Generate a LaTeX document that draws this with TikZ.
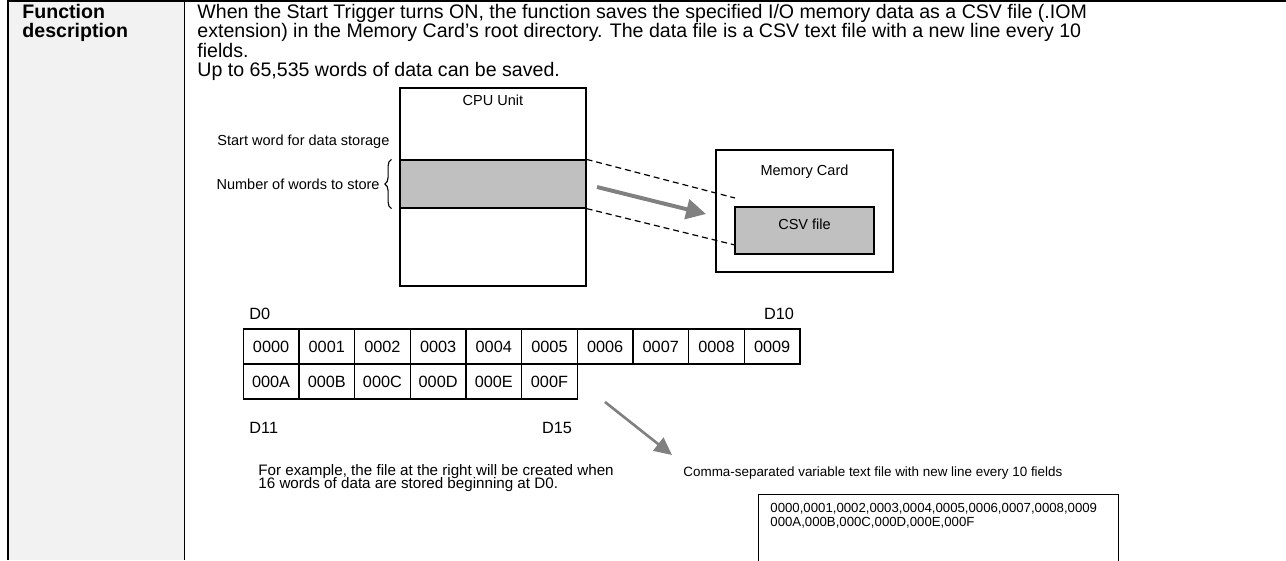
\documentclass[tikz,border=0pt]{standalone}
\usepackage{fontspec}
\setmainfont{Liberation Sans}
\usetikzlibrary{arrows.meta,decorations.pathreplacing,calc}
\newcommand{\pu}{0.4545pt}
\definecolor{cardgray}{HTML}{C0C0C0}
\definecolor{headgray}{HTML}{F2F2F2}
\definecolor{arrowgray}{HTML}{808080}

\begin{document}
\begin{tikzpicture}[x=\pu, y=-\pu,
		body/.style={anchor=base west, inner sep=0, font=\fontsize{8.9}{10.5}\selectfont},
		head/.style={anchor=base west, inner sep=0, font=\fontsize{8.9}{10.5}\selectfont\bfseries},
		lbl/.style={inner sep=0, font=\fontsize{6.6}{8}\selectfont},
		small/.style={inner sep=0, font=\fontsize{6.0}{7}\selectfont},
		val/.style={inner sep=0, font=\fontsize{7.4}{9}\selectfont},
		unit/.style={draw, line width=0.55pt, inner sep=0},
		filled/.style={unit, fill=cardgray},
		cell/.style={val, draw, line width=0.55pt, minimum width=55.67*\pu, minimum height=35*\pu},
		flow/.style={draw=arrowgray, line width=1.8pt, -{Triangle[length=9pt,width=9pt]}}
	]
	\useasboundingbox (0,0) rectangle (1286,560);
	\clip (0,0) rectangle (1286,560);

	% Table row frame
	\fill[headgray] (8,2) rectangle (184.5,560);
	\draw[line width=1.1pt] (7,1.2) -- (1286,1.2);
	\draw[line width=0.9pt] (8,0) -- (8,560);
	\draw[line width=0.9pt] (184.5,0) -- (184.5,560);

	\node[head] (fn) at (22,18) {Function};
	\node[head] (fd) at (22,37.5) {description};

	% Description text
	\node[body] (t1) at (197,18) {When the Start Trigger turns ON, the function saves the specified I/O memory data as a CSV file (.IOM};
	\node[body] (t2) at (197,37.5) {extension) in the Memory Card's root directory. The data file is a CSV text file with a new line every 10};
	\node[body] (t3) at (197,57) {fields.};
	\node[body] (t4) at (197,76.5) {Up to 65,535 words of data can be saved.};

	% CPU Unit
	\node[unit, minimum width=186*\pu, minimum height=198*\pu] (cpu) at (493,187) {};
	\node[filled, minimum width=186*\pu, minimum height=48*\pu] (area) at (493,184) {};
	\node[lbl, anchor=base] (cpulbl) at (493,105) {CPU Unit};
	\node[lbl, anchor=base west] (start) at (217,145) {Start word for data storage};
	\node[lbl, anchor=base east] (count) at (380,189) {Number of words to store};
	\draw[line width=0.5pt, decorate, decoration={brace, amplitude=3pt}]
		($(area.south west)+(-8,0)$) -- ($(area.north west)+(-8,0)$);

	% Memory Card
	\node[unit, minimum width=177*\pu, minimum height=122*\pu] (card) at (804.5,211) {};
	\node[lbl, anchor=base] (cardlbl) at (804.5,175) {Memory Card};
	\node[filled, minimum width=139*\pu, minimum height=47*\pu] (csv) at (804.5,230.5) {};
	\node[lbl, anchor=base] (csvlbl) at (804.5,229) {CSV file};

	\coordinate (hi) at (735,198);
	\coordinate (lo) at (735,245);
	\draw[line width=0.55pt, dash pattern=on 2.7pt off 1.8pt] (area.north east) -- (hi);
	\draw[line width=0.55pt, dash pattern=on 2.7pt off 1.8pt] (area.south east) -- (lo);

	\coordinate (mv0) at (597,187);
	\coordinate (mv1) at (706,214);
	\draw[flow] (mv0) -- (mv1);

	% Words D0 to D15
	\foreach \v [count=\i from 0] in {0000,0001,0002,0003,0004,0005,0006,0007,0008,0009}
		\node[cell] (w\i) at ({271.1+55.67*\i},346.5) {\v};
	\foreach \v [count=\i from 0] in {000A,000B,000C,000D,000E,000F}
		\node[cell] (x\i) at ({271.1+55.67*\i},381.5) {\v};

	\node[val, anchor=base west] (d0) at (249,319) {D0};
	\node[val, anchor=base] (d10) at (779,319) {D10};
	\node[val, anchor=base west] (d11) at (249,433) {D11};
	\node[val, anchor=base] (d15) at (557,433) {D15};

	\coordinate (ex0) at (605,402);
	\coordinate (ex1) at (672,455);
	\draw[flow, line width=1.2pt, -{Triangle[length=8pt,width=7.5pt]}] (ex0) -- (ex1);

	\node[lbl, anchor=base west, font=\fontsize{6.9}{8}\selectfont] (note1) at (258,475) {For example, the file at the right will be created when};
	\node[lbl, anchor=base west, font=\fontsize{6.9}{8}\selectfont] (note2) at (258,488) {16 words of data are stored beginning at D0.};

	% Resulting CSV file
	\node[small, anchor=base west, font=\fontsize{6.1}{7}\selectfont] (csvcap) at (683,476) {Comma-separated variable text file with new line every 10 fields};
	\node[unit, anchor=north west, minimum width=360*\pu, minimum height=67*\pu] (out) at (758,494) {};
	\node[small, anchor=base west] (line1) at (770,512) {0000,0001,0002,0003,0004,0005,0006,0007,0008,0009};
	\node[small, anchor=base west] (line2) at (770,526) {000A,000B,000C,000D,000E,000F};
\end{tikzpicture}
\end{document}
